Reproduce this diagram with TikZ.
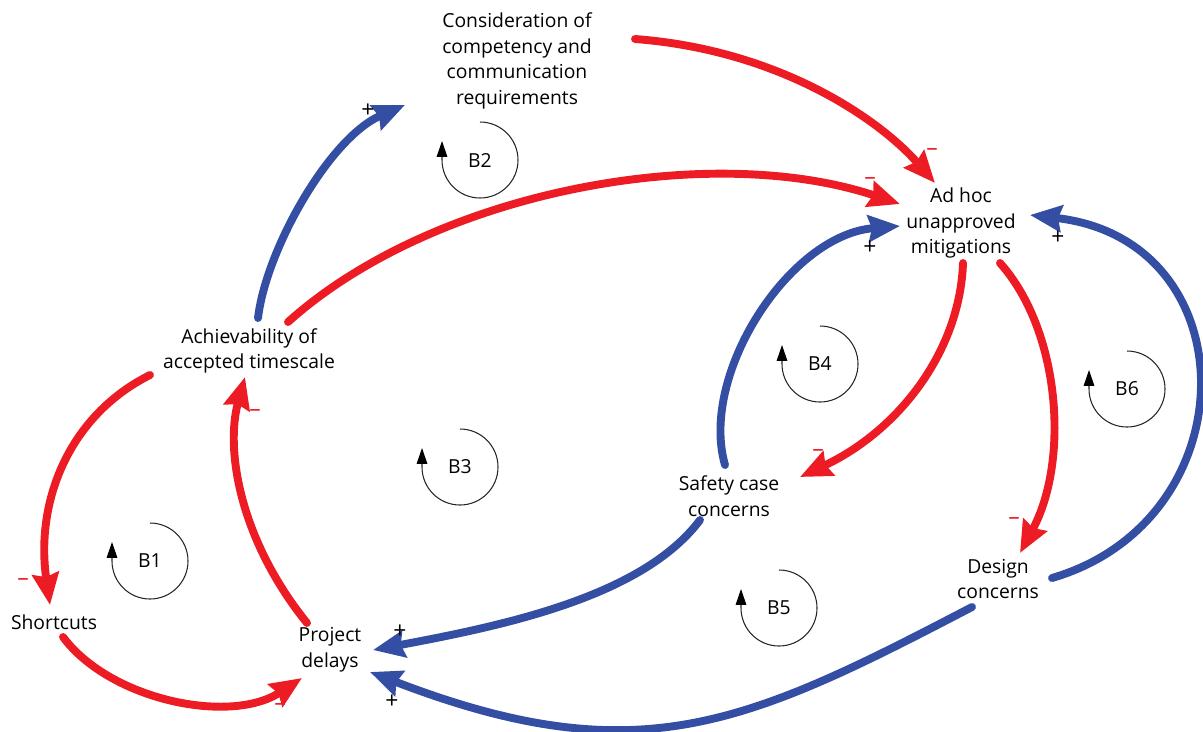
\documentclass[tikz,border=0pt]{standalone}
\usepackage{fontspec}
\setmainfont{Open Sans}
\usetikzlibrary{arrows.meta,calc}
\definecolor{posblue}{RGB}{51,78,163}
\definecolor{negred}{RGB}{237,28,36}
\tikzset{
  var/.style={align=center, inner sep=0pt, font=\fontsize{11}{14.7}\selectfont},
  link/.style={line width=4.5pt, line cap=round, -{Stealth[length=18pt,width=15pt,inset=2pt]}},
  poslink/.style={link, posblue},
  neglink/.style={link, negred},
  loopline/.style={black!85, line width=0.6pt, -{Triangle[length=9pt,width=6pt,black]}},
  possign/.style={inner sep=0pt, font=\fontsize{13}{14}\selectfont},
  negsign/.style={possign, negred},
}
% balancing loop marker: centre, name
\newcommand{\balloop}[2]{%
  \node[var] (#2) at (#1) {#2};
  \draw[loopline] (#2) ++(0,-38) arc[start angle=-90, end angle=180, radius=38] -- ++(0,-19);
}

\begin{document}
\begin{tikzpicture}[x=0.02cm, y=-0.02cm]
    \useasboundingbox (0,0) rectangle (1203,731);

    % Variables
    \node[var] (cons) at (517,61) {Consideration of\\competency and\\communication\\requirements};
    \node[var] (adhoc) at (961,223) {Ad hoc\\unapproved\\mitigations};
    \node[var] (achv) at (249,351) {Achievability of\\accepted timescale};
    \node[var] (shortcuts) at (54,622) {Shortcuts};
    \node[var] (delays) at (330,650) {Project\\delays};
    \node[var] (safety) at (729,496) {Safety case\\concerns};
    \node[var] (design) at (998,579) {Design\\concerns};

    % Loop markers
    \balloop{150,561}{B1}
    \balloop{480,160}{B2}
    \balloop{460,467}{B3}
    \balloop{820,364}{B4}
    \balloop{779,608}{B5}
    \balloop{1127,389}{B6}

    % Negative links (red)
    \draw[neglink] ($(cons)+(118,-22)$) .. controls +(145,11) and +(-55,-63) .. ($(adhoc)+(-26,-40)$);
    \draw[neglink] ($(achv)+(39,-29)$) .. controls +(147,-132) and +(-189,-63) .. ($(adhoc)+(-61,-19)$);
    \draw[neglink] ($(adhoc)+(2,40)$) .. controls +(-3,87) and +(100,-47) .. ($(safety)+(71,-19)$);
    \draw[neglink] ($(adhoc)+(39,40)$) .. controls +(60,67) and +(50,-93) .. ($(design)+(22,-26)$);
    \draw[neglink] ($(achv)+(-99,24)$) .. controls +(-80,40) and +(-15,-105) .. ($(shortcuts)+(-4,-17)$);
    \draw[neglink] ($(shortcuts)+(9,15)$) .. controls +(47,63) and +(-72,47) .. ($(delays)+(-28,28)$);
    \draw[neglink] ($(delays)+(-23,-27)$) .. controls +(-67,-83) and +(-20,73) .. ($(achv)+(-4,26)$);

    % Positive links (blue)
    \draw[poslink] ($(achv)+(9,-33)$) .. controls +(8,-68) and +(-76,33) .. ($(cons)+(-112,44)$);
    \draw[poslink] ($(safety)+(-4,-31)$) .. controls +(-26,-90) and +(-111,9) .. ($(adhoc)+(-61,3)$);
    \draw[poslink] ($(design)+(54,-1)$) .. controls +(198,-58) and +(220,25) .. ($(adhoc)+(69,-8)$);
    \draw[poslink] ($(safety)+(-29,24)$) .. controls +(-57,76) and +(134,-25) .. ($(delays)+(43,0)$);
    \draw[poslink] ($(design)+(-26,28)$) .. controls +(-226,118) and +(268,103) .. ($(delays)+(40,22)$);

    % Link polarities
    \node[possign] (p1) at (368,111) {+};
    \node[possign] (p2) at (870,248) {+};
    \node[possign] (p3) at (1058,238) {+};
    \node[possign] (p4) at (400,632) {+};
    \node[possign] (p5) at (392,702) {+};
    \node[negsign] (m1) at (932,152) {–};
    \node[negsign] (m2) at (870,181) {–};
    \node[negsign] (m3) at (818,453) {–};
    \node[negsign] (m4) at (1014,521) {–};
    \node[negsign] (m5) at (23,582) {–};
    \node[negsign] (m6) at (280,707) {–};
    \node[negsign] (m7) at (255,413) {–};
\end{tikzpicture}
\end{document}
